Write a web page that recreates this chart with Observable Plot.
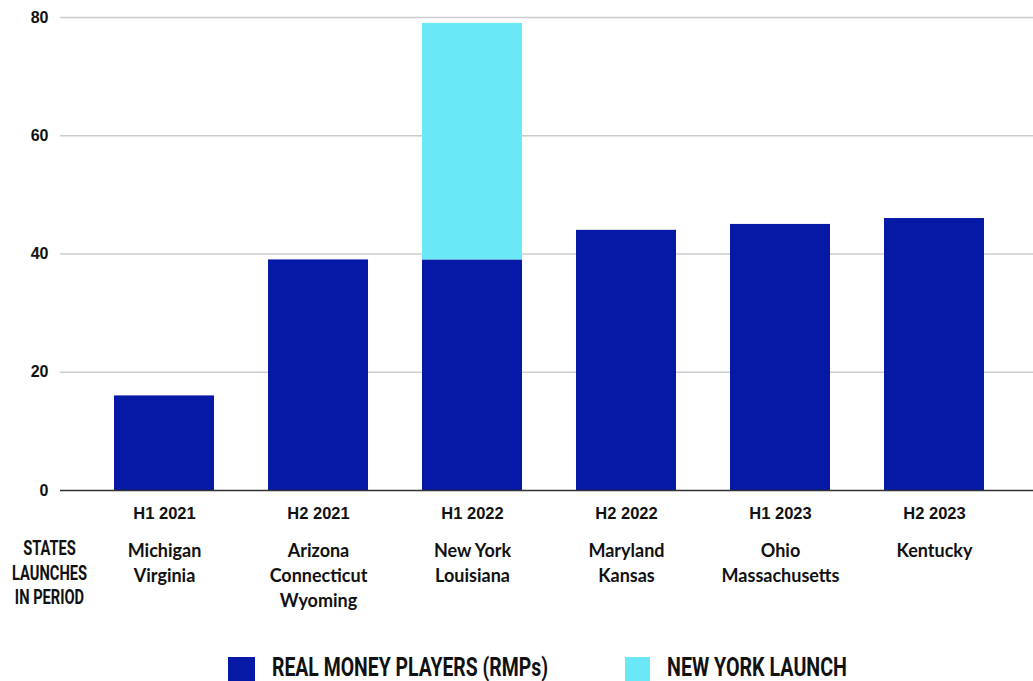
<!DOCTYPE html>
<html>
<head>
<meta charset="utf-8">
<script src="https://cdn.jsdelivr.net/npm/d3@7"></script>
<script src="https://cdn.jsdelivr.net/npm/@observablehq/plot@0.6"></script>
<style>
  html, body { margin: 0; padding: 0; background: #fff; }
  #wrap { position: relative; width: 1033px; height: 681px; overflow: hidden; }
  .cond { font-family: Roboto, "Liberation Sans", sans-serif; font-weight: 700; color: #111; }
  #rowlab { position: absolute; left: 48px; top: 537px; font-size: 19.5px; line-height: 24.5px; text-align: center; white-space: nowrap; }
  #legend { position: absolute; left: 0; top: 640px; }
</style>
</head>
<body>
<div id="wrap"></div>
<script>
const periods = ["H1 2021", "H2 2021", "H1 2022", "H2 2022", "H1 2023", "H2 2023"];
const rmpValues = [16, 39, 39, 44, 45, 46];
const nyLaunchValues = [0, 0, 40, 0, 0, 0];
const statesLaunched = [
  "Michigan\nVirginia",
  "Arizona\nConnecticut\nWyoming",
  "New York\nLouisiana",
  "Maryland\nKansas",
  "Ohio\nMassachusetts",
  "Kentucky"
];
const seriesNames = ["REAL MONEY PLAYERS (RMPs)", "NEW YORK LAUNCH"];
const seriesColors = ["#0519A6", "#6AE8F7"];
const yTicks = [0, 20, 40, 60, 80];
const rowLabelLines = ["STATES", "LAUNCHES", "IN PERIOD"];

const table = [];
periods.forEach((p, i) => {
  table.push({period: p, series: seriesNames[0], value: rmpValues[i]});
  table.push({period: p, series: seriesNames[1], value: nyLaunchValues[i]});
});
const statesTable = periods.map((p, i) => ({period: p, states: statesLaunched[i]}));

const chart = Plot.plot({
  width: 1033,
  height: 640,
  marginTop: 17,
  marginBottom: 150,
  marginLeft: 60,
  marginRight: 0,
  x: {domain: periods, insetLeft: 26, insetRight: 21, paddingInner: 0.352, paddingOuter: 0.176, label: null},
  y: {domain: [0, 80], ticks: yTicks, label: null},
  color: {domain: seriesNames, range: seriesColors},
  style: {fontFamily: "'Liberation Sans', Arial, sans-serif", background: "#fff"},
  marks: [
    Plot.ruleY(yTicks.filter(d => d > 0), {stroke: "#cccccc", strokeWidth: 1.3}),
    Plot.barY(table, {x: "period", y: "value", fill: "series", order: seriesNames}),
    Plot.ruleY([0], {stroke: "#333", strokeWidth: 1.5}),
    Plot.axisY({ticks: yTicks, tickSize: 0, tickPadding: 12, fontSize: 16, fontWeight: "bold", fill: "#111", label: null}),
    Plot.axisX({tickSize: 0, tickPadding: 17, fontSize: 16.5, fontWeight: "bold", fill: "#111", label: null}),
    Plot.text(statesTable, {
      x: "period", text: "states", frameAnchor: "bottom", lineAnchor: "top",
      dy: 49, fontSize: 18, lineHeight: 1.39, fill: "#111",
      fontFamily: "Lato, 'Open Sans', sans-serif", fontWeight: "bold"
    })
  ]
});

const wrap = document.getElementById("wrap");
wrap.appendChild(chart);

// Row label on the left of the states rows
const rl = document.createElement("div");
rl.id = "rowlab";
rl.className = "cond";
rl.innerHTML = rowLabelLines.join("<br>");
wrap.appendChild(rl);
const rlw = rl.getBoundingClientRect().width;
const rlScale = 75 / rlw;
rl.style.transformOrigin = "left top";
rl.style.left = (49 - rlw * rlScale / 2) + "px";
rl.style.transform = `scaleX(${rlScale})`;

// Legend below the chart
const legendLeft = [228, 625];
const legendTextWidth = [276, 180];
const ns = "http://www.w3.org/2000/svg";
const lg = document.createElementNS(ns, "svg");
lg.setAttribute("id", "legend");
lg.setAttribute("width", 1033);
lg.setAttribute("height", 41);
seriesNames.forEach((name, i) => {
  const r = document.createElementNS(ns, "rect");
  r.setAttribute("x", legendLeft[i]);
  r.setAttribute("y", 17);
  r.setAttribute("width", i === 0 ? 27 : 25);
  r.setAttribute("height", 24);
  r.setAttribute("fill", seriesColors[i]);
  lg.appendChild(r);
  const t = document.createElementNS(ns, "text");
  t.setAttribute("x", legendLeft[i] + (i === 0 ? 44 : 42));
  t.setAttribute("y", 36);
  t.setAttribute("font-family", "Roboto, 'Liberation Sans', sans-serif");
  t.setAttribute("font-weight", "700");
  t.setAttribute("font-size", "26");
  t.setAttribute("fill", "#111");
  t.setAttribute("textLength", legendTextWidth[i]);
  t.setAttribute("lengthAdjust", "spacingAndGlyphs");
  t.textContent = name;
  lg.appendChild(t);
});
wrap.appendChild(lg);
</script>
</body>
</html>
